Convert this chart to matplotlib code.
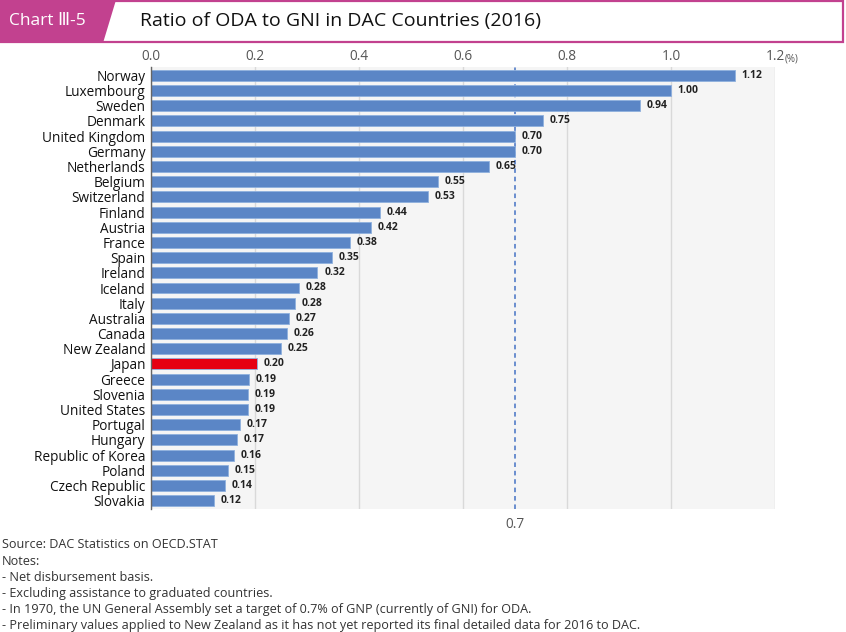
import matplotlib.pyplot as plt
from matplotlib.patches import Polygon, Rectangle
import numpy as np

plt.rcParams['font.family'] = ['Open Sans', 'DejaVu Sans']

# data
countries = ['Norway', 'Luxembourg', 'Sweden', 'Denmark', 'United Kingdom', 'Germany',
             'Netherlands', 'Belgium', 'Switzerland', 'Finland', 'Austria', 'France',
             'Spain', 'Ireland', 'Iceland', 'Italy', 'Australia', 'Canada', 'New Zealand',
             'Japan', 'Greece', 'Slovenia', 'United States', 'Portugal', 'Hungary',
             'Republic of Korea', 'Poland', 'Czech Republic', 'Slovakia']
ratio = [1.123, 1.000, 0.941, 0.753, 0.700, 0.700, 0.650, 0.552, 0.532, 0.441, 0.423,
         0.383, 0.348, 0.320, 0.284, 0.277, 0.266, 0.261, 0.250, 0.204, 0.189, 0.187,
         0.186, 0.171, 0.166, 0.159, 0.148, 0.142, 0.121]
labels = ['1.12', '1.00', '0.94', '0.75', '0.70', '0.70', '0.65', '0.55', '0.53', '0.44',
          '0.42', '0.38', '0.35', '0.32', '0.28', '0.28', '0.27', '0.26', '0.25', '0.20',
          '0.19', '0.19', '0.19', '0.17', '0.17', '0.16', '0.15', '0.14', '0.12']
xticks = [0.0, 0.2, 0.4, 0.6, 0.8, 1.0, 1.2]
target = 0.7

W, H = 846, 632
fig = plt.figure(figsize=(W / 100, H / 100), dpi=100)


def fx(px):
    return px / W


def fy(py):
    return 1 - py / H


ax = fig.add_axes([fx(151), fy(509), fx(775) - fx(151), fy(67) - fy(509)])
ax.set_facecolor('#f5f5f5')

y = np.arange(len(countries))
colors = ['#e60012' if c == 'Japan' else '#5b86c6' for c in countries]
ax.barh(y, ratio, height=0.72, color=colors, edgecolor='#8fb0de', linewidth=0.6, zorder=3)

for yi, v, lab in zip(y, ratio, labels):
    ax.text(v + 0.013, yi, lab, va='center', ha='left', fontsize=7.5,
            fontweight='bold', color='#222222', zorder=4)

ax.set_xlim(0, 1.2)
ax.set_ylim(len(countries) - 0.45, -0.55)
ax.set_yticks(y)
ax.set_yticklabels(countries, fontsize=9.8, color='#111111')
ax.tick_params(axis='y', length=0, pad=4)

ax.xaxis.tick_top()
ax.set_xticks(xticks)
ax.set_xticklabels([f'{t:.1f}' for t in xticks], fontsize=9.8, color='#555555')
ax.tick_params(axis='x', length=0, pad=2)
fig.text(fx(785), fy(59), '(%)', fontsize=7, color='#555555', va='center', ha='left')

ax.grid(axis='x', color='#d9d9d9', linewidth=1, zorder=0)
for s in ['top', 'right', 'bottom']:
    ax.spines[s].set_visible(False)
ax.spines['left'].set_color('#666666')
ax.spines['left'].set_linewidth(1)
ax.spines['left'].set_zorder(5)

ax.axvline(target, color='#4472c4', linestyle=(0, (3, 2.5)), linewidth=1.1, zorder=2)
ax.text(target, len(countries) - 0.45 + 0.5, f'{target}', ha='center', va='top',
        fontsize=9.8, color='#555555')

# header
magenta = '#c2418f'
fig.patches.append(Rectangle((fx(1), fy(42)), fx(843) - fx(1), fy(1) - fy(42),
                             transform=fig.transFigure, facecolor='white',
                             edgecolor=magenta, linewidth=1.6))
fig.patches.append(Polygon([(fx(0), fy(0)), (fx(116), fy(0)), (fx(103), fy(43)),
                            (fx(0), fy(43))], closed=True, transform=fig.transFigure,
                           facecolor=magenta, edgecolor='none'))
fig.text(fx(9), fy(21), 'Chart Ⅲ-5', color='white', fontsize=12.5, va='center', ha='left')
fig.text(fx(140), fy(21), 'Ratio of ODA to GNI in DAC Countries (2016)', color='#111111',
         fontsize=14, va='center', ha='left')

notes = ['Source: DAC Statistics on OECD.STAT',
         'Notes:',
         '- Net disbursement basis.',
         '- Excluding assistance to graduated countries.',
         '- In 1970, the UN General Assembly set a target of 0.7% of GNP (currently of GNI) for ODA.',
         '- Preliminary values applied to New Zealand as it has not yet reported its final detailed data for 2016 to DAC.']
for i, line in enumerate(notes):
    fig.text(fx(2), fy(545 + i * 16.1), line, fontsize=9.1, color='#333333',
             va='center', ha='left')

plt.savefig('out.png', dpi=100)
